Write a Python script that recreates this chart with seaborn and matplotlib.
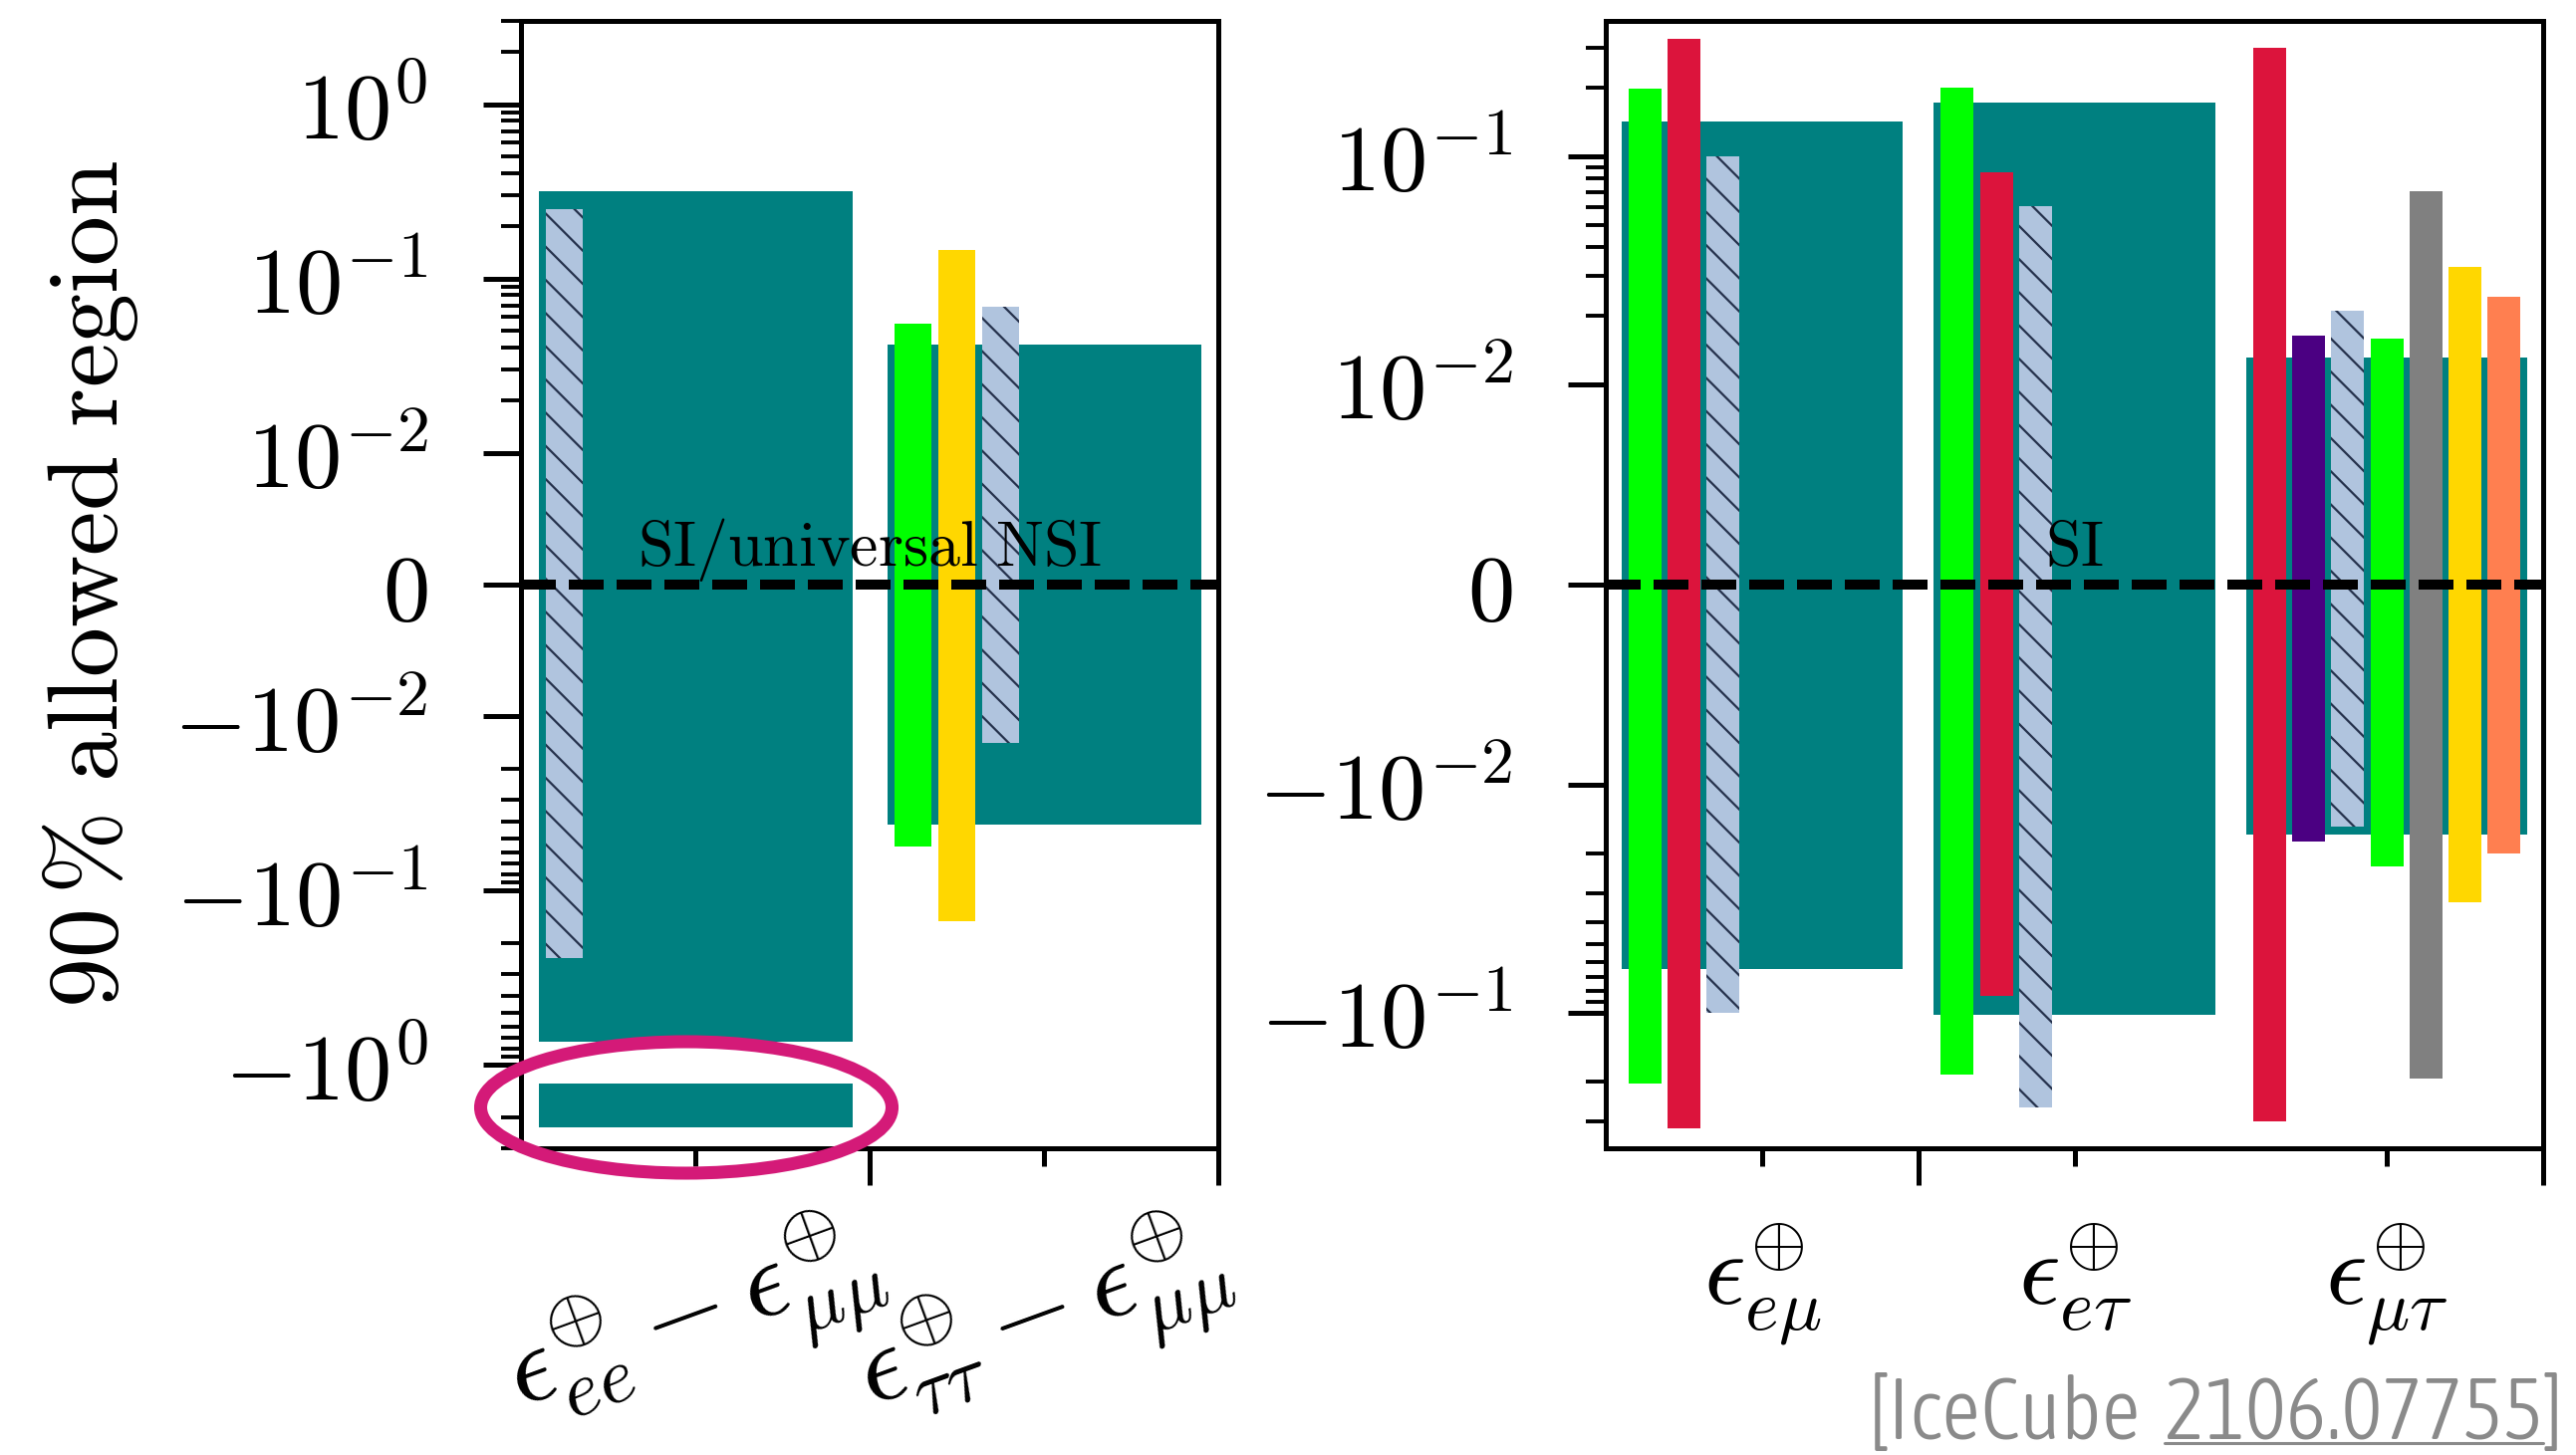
import numpy as np
import pandas as pd
import matplotlib
matplotlib.use("Agg")
import matplotlib.pyplot as plt
from matplotlib.patches import Ellipse
from matplotlib.lines import Line2D
from matplotlib.ticker import FixedLocator
from matplotlib import font_manager
from matplotlib.font_manager import FontProperties
import seaborn as sns

# ---------------------------------------------------------------- data
left_categories = [r"$\epsilon^{\oplus}_{ee} - \epsilon^{\oplus}_{\mu\mu}$",
                   r"$\epsilon^{\oplus}_{\tau\tau} - \epsilon^{\oplus}_{\mu\mu}$"]
right_categories = [r"$\epsilon^{\oplus}_{e\mu}$", r"$\epsilon^{\oplus}_{e\tau}$",
                    r"$\epsilon^{\oplus}_{\mu\tau}$"]

# 90 % allowed intervals (lower / upper), None = no bound shown
# left panel: diagonal NSI differences
icecube_diag_lo = [-0.73, -0.0415]
icecube_diag_hi = [0.318, 0.0418]
icecube_diag_island_lo = [-2.29, None]
icecube_diag_island_hi = [-1.28, None]
hatched_diag_lo = [-0.243, -0.0141]
hatched_diag_hi = [0.251, 0.069]
lime_diag_lo = [None, -0.0557]
lime_diag_hi = [None, 0.0553]
gold_diag_lo = [None, -0.150]
gold_diag_hi = [None, 0.146]

# right panel: off-diagonal NSI
icecube_off_lo = [-0.0643, -0.102, -0.0165]
icecube_off_hi = [0.142, 0.172, 0.0131]
lime_off_lo = [-0.204, -0.187, -0.0229]
lime_off_hi = [0.199, 0.200, 0.0159]
crimson_off_lo = [-0.321, -0.084, -0.2985]
crimson_off_hi = [0.328, 0.085, 0.299]
hatched_off_lo = [-0.100, -0.260, -0.0153]
hatched_off_hi = [0.100, 0.0605, 0.021]
indigo_off_lo = [None, None, -0.0178]
indigo_off_hi = [None, None, 0.0163]
gray_off_lo = [None, None, -0.195]
gray_off_hi = [None, None, 0.0703]
gold_off_lo = [None, None, -0.0329]
gold_off_hi = [None, None, 0.0329]
coral_off_lo = [None, None, -0.0200]
coral_off_hi = [None, None, 0.0243]

y_ticks_left = [-1, -0.1, -0.01, 0, 0.01, 0.1, 1]
y_ticklabels_left = [r"$-10^{0}$", r"$-10^{-1}$", r"$-10^{-2}$", r"$0$",
                     r"$10^{-2}$", r"$10^{-1}$", r"$10^{0}$"]
y_ticks_right = [-0.1, -0.01, 0, 0.01, 0.1]
y_ticklabels_right = [r"$-10^{-1}$", r"$-10^{-2}$", r"$0$", r"$10^{-2}$", r"$10^{-1}$"]

ylabel_text = r"$90\,\%\ \mathrm{allowed\ region}$"
band_label_left = r"$\mathrm{SI/universal\ NSI}$"
band_label_right = r"$\mathrm{SI}$"
credit_parts = ["[IceCube", "2106.07755", "]"]

# ---------------------------------------------------------------- layout / style
# slot of each narrow bar inside its group (None = absent)
slots_hatched_diag = [0, 2]
slots_lime_diag = [None, 0]
slots_gold_diag = [None, 1]
slots_lime_off = [0, 0, 3]
slots_crimson_off = [1, 1, 0]
slots_hatched_off = [2, 2, 2]
slots_indigo_off = [None, None, 1]
slots_gray_off = [None, None, 4]
slots_gold_off = [None, None, 5]
slots_coral_off = [None, None, 6]

STEP = 0.125
NARROW_W = 0.105
WIDE_W = 0.9
TEAL = "#008080"
HATCH_FACE = "#b0c4de"
HATCH_EDGE = "#26324d"

sns.set_style("ticks")
plt.rcParams.update({
    "mathtext.fontset": "cm",
    "font.family": ["DejaVu Sans"],
    "hatch.linewidth": 0.8,
    "axes.edgecolor": "black",
    "axes.linewidth": 1.8,
    "xtick.color": "black",
    "ytick.color": "black",
    "text.color": "black",
    "axes.labelcolor": "black",
})

W, H, DPI = 2586, 1461, 200
fig = plt.figure(figsize=(W / DPI, H / DPI), dpi=DPI)
fig.patch.set_facecolor("white")


def px_axes(x0, x1, ytop, ybot):
    return fig.add_axes([x0 / W, 1 - ybot / H, (x1 - x0) / W, (ybot - ytop) / H])


axL = px_axes(523, 1223, 21, 1153)
axR = px_axes(1612, 2553, 21, 1153)


def wide_centers(n):
    return [g + 0.5 for g in range(n)]


def narrow_centers(slots):
    return [None if s is None else g + STEP * (s + 1) for g, s in enumerate(slots)]


def draw(ax, centers, lo, hi, width, color, **kw):
    rows = [(c, h - l, l) for c, l, h in zip(centers, lo, hi)
            if c is not None and l is not None]
    df = pd.DataFrame(rows, columns=["x", "span", "bottom"]).sort_values("x")
    df = df.reset_index(drop=True)
    ux = np.unique(df["x"].to_numpy())
    native = float(np.min(np.diff(ux))) if len(ux) > 1 else 1.0
    sns.barplot(data=df, x="x", y="span", native_scale=True, width=width / native,
                bottom=df["bottom"].to_numpy(), color=color, saturation=1,
                errorbar=None, ax=ax, linewidth=0, **kw)


hatch_kw = dict(edgecolor=HATCH_EDGE, hatch="\\\\")

# left panel
draw(axL, wide_centers(2), icecube_diag_lo, icecube_diag_hi, WIDE_W, TEAL)
draw(axL, wide_centers(2), icecube_diag_island_lo, icecube_diag_island_hi, WIDE_W, TEAL)
draw(axL, narrow_centers(slots_hatched_diag), hatched_diag_lo, hatched_diag_hi,
     NARROW_W, HATCH_FACE, **hatch_kw)
draw(axL, narrow_centers(slots_lime_diag), lime_diag_lo, lime_diag_hi, NARROW_W, "lime")
draw(axL, narrow_centers(slots_gold_diag), gold_diag_lo, gold_diag_hi, NARROW_W, "gold")

# right panel
draw(axR, wide_centers(3), icecube_off_lo, icecube_off_hi, WIDE_W, TEAL)
draw(axR, narrow_centers(slots_lime_off), lime_off_lo, lime_off_hi, NARROW_W, "lime")
draw(axR, narrow_centers(slots_crimson_off), crimson_off_lo, crimson_off_hi, NARROW_W, "crimson")
draw(axR, narrow_centers(slots_hatched_off), hatched_off_lo, hatched_off_hi,
     NARROW_W, HATCH_FACE, **hatch_kw)
draw(axR, narrow_centers(slots_indigo_off), indigo_off_lo, indigo_off_hi, NARROW_W, "indigo")
draw(axR, narrow_centers(slots_gray_off), gray_off_lo, gray_off_hi, NARROW_W, "gray")
draw(axR, narrow_centers(slots_gold_off), gold_off_lo, gold_off_hi, NARROW_W, "gold")
draw(axR, narrow_centers(slots_coral_off), coral_off_lo, coral_off_hi, NARROW_W, "coral")


def minor_ticks(top):
    vals = []
    for k in range(-2, 1):
        for m in range(2, 10):
            v = m * 10.0 ** k
            if v <= top * 1.0001:
                vals += [v, -v]
    return sorted(vals)


axL.set_yscale("symlog", linthresh=0.01, linscale=0.757 * 0.9)
axL.set_ylim(-3, 3)
axR.set_yscale("symlog", linthresh=0.01, linscale=0.878 * 0.9)
axR.set_ylim(-0.393, 0.393)
axL.set_xlim(0, 2)
axR.set_xlim(0, 3)

axL.set_yticks(y_ticks_left, labels=y_ticklabels_left)
axR.set_yticks(y_ticks_right, labels=y_ticklabels_right)
axL.yaxis.set_minor_locator(FixedLocator(minor_ticks(3)))
axR.yaxis.set_minor_locator(FixedLocator(minor_ticks(0.393)))

axL.set_xticks([1, 2], labels=["", ""])
axL.set_xticks([0.5, 1.5], labels=left_categories, minor=True)
axR.set_xticks([1, 3], labels=["", ""])
axR.set_xticks([0.5, 1.5, 2.5], labels=right_categories, minor=True)

for ax in (axL, axR):
    ax.set_xlabel("")
    ax.set_ylabel("")
    for sp in ax.spines.values():
        sp.set_visible(True)
        sp.set_linewidth(1.8)
        sp.set_color("black")
        sp.set_zorder(6)
    ax.tick_params(axis="y", which="major", direction="out", length=13.7, width=1.8,
                   labelsize=34, pad=20)
    ax.tick_params(axis="y", which="minor", direction="out", length=7.2, width=1.4)
    ax.tick_params(axis="x", which="major", direction="out", length=13.3, width=1.8)
    ax.tick_params(axis="x", which="minor", direction="out", length=6.5, width=1.8,
                   labelsize=37, pad=20)
    ax.axhline(0, color="black", lw=3.6, ls=(0, (3.5, 1.3)), zorder=3)

left_label_pad = 23.0
axL.tick_params(axis="x", which="minor", labelrotation=20, labelsize=40, pad=left_label_pad)

axL.annotate(band_label_left, xy=(1.0, 0), xytext=(0, 7), textcoords="offset points",
             ha="center", va="baseline", fontsize=23, zorder=4)
axR.annotate(band_label_right, xy=(1.5, 0), xytext=(0, 7), textcoords="offset points",
             ha="center", va="baseline", fontsize=23, zorder=4)

axL.set_ylabel(ylabel_text, fontsize=36)
axL.yaxis.set_label_coords(-0.546, 0.5)

# keep the rotated category labels inside the canvas
fig.canvas.draw()
renderer = fig.canvas.get_renderer()
low = min(t.get_window_extent(renderer).y0
          for t in axL.get_xticklabels(minor=True) if t.get_text())
if low < 2:
    left_label_pad -= (2 - low) * 72.0 / DPI
    axL.tick_params(axis="x", which="minor", pad=left_label_pad)

# highlight ellipse
fig.add_artist(Ellipse((689 / W, 1 - 1112 / H), 413 / W, 132 / H,
                       transform=fig.transFigure, fill=False, edgecolor="#d41a78",
                       linewidth=4.7, zorder=10, clip_on=False))


# credit text: a light, condensed sans face
def weight_num(w):
    if isinstance(w, (int, float)):
        return int(w)
    return font_manager.weight_dict.get(str(w), 400)


def pick_credit_font():
    cands = []
    for f in font_manager.fontManager.ttflist:
        nm = f.name.lower()
        narrow = ("condensed" in nm) or ("narrow" in nm) or \
            (str(f.stretch) in ("condensed", "semi-condensed", "extra-condensed"))
        if narrow and f.style == "normal" and "mono" not in nm:
            cands.append((abs(weight_num(f.weight) - 330), f.fname))
    if cands:
        cands.sort()
        if cands[0][0] <= 150:
            return FontProperties(fname=cands[0][1])
    return FontProperties(family=["Open Sans", "DejaVu Sans"], weight="light")


credit_fp = pick_credit_font()
credit_gray = "#8a8a8a"
inv = fig.transFigure.inverted()


def place_credit(fs):
    x_right = 2573.0
    y_base = H - 1445.0
    out = []
    gap = 0.27 * fs * DPI / 72.0
    for part in reversed(credit_parts):
        fx, fy = inv.transform((x_right, y_base))
        fp = credit_fp.copy()
        fp.set_size(fs)
        t = fig.text(fx, fy, part, ha="right", va="baseline", fontproperties=fp,
                     color=credit_gray)
        bb = t.get_window_extent(renderer)
        x_right = bb.x0 - (gap if part == credit_parts[1] else 0.0)
        out.append((t, bb))
    return out[::-1]


fs = 30.0
parts = place_credit(fs)
total = parts[-1][1].x1 - parts[0][1].x0
for t, _ in parts:
    t.remove()
fs = min(fs * 698.0 / total, 32.0)
parts = place_credit(fs)
nb = parts[1][1]
(ux0, uy), (ux1, _) = inv.transform([(nb.x0, H - 1449.0), (nb.x1, H - 1449.0)])
fig.add_artist(Line2D([ux0, ux1], [uy, uy], transform=fig.transFigure,
                      color=credit_gray, lw=1.1))

fig.savefig("out.png", dpi=DPI, facecolor="white")
